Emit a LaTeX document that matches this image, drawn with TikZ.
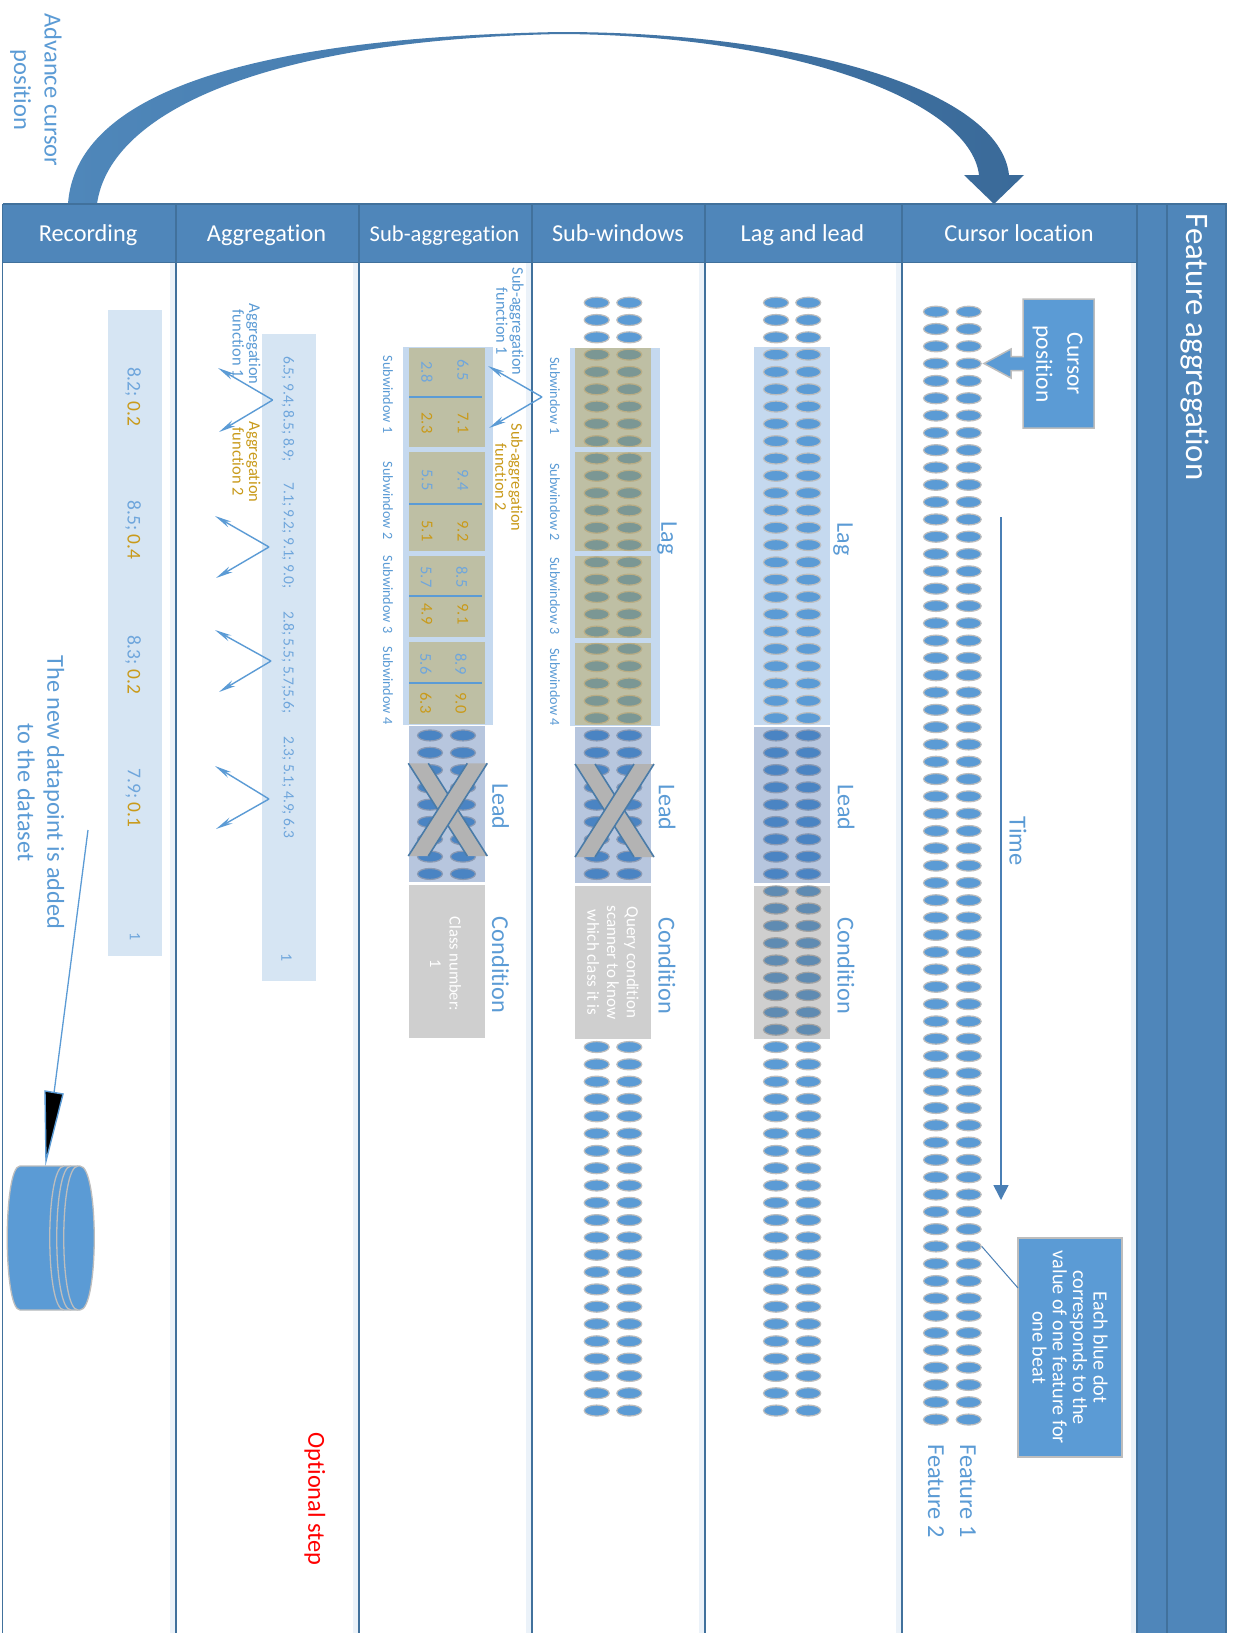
\documentclass[tikz,border=0pt]{standalone}
\usepackage{fontspec}
\setmainfont[Ligatures=NoCommon]{Carlito}
\usetikzlibrary{shapes.geometric,arrows.meta}
\definecolor{hdr}{HTML}{4F86BA}
\definecolor{hdrline}{HTML}{41719C}
\definecolor{glowc}{HTML}{EBF2F9}
\definecolor{lb}{HTML}{5B9BD5}
\definecolor{valb}{HTML}{6FA6DC}
\definecolor{gold}{HTML}{C99A1A}
\definecolor{lagbg}{HTML}{C5D9EF}
\definecolor{pale}{HTML}{D6E5F3}
\definecolor{dotline}{HTML}{BDBDBD}
\definecolor{tan}{RGB}{180,145,33}
\definecolor{leadc}{RGB}{44,88,161}
\definecolor{condc}{HTML}{CFCFCF}
\definecolor{condov}{HTML}{6A6A6A}
\definecolor{crossg}{HTML}{B3B3B3}
\definecolor{crossl}{HTML}{4A7BA7}
\definecolor{arrL}{HTML}{4F87BA}
\definecolor{arrR}{HTML}{3A6A99}
\definecolor{timec}{HTML}{4A7FB5}
\tikzset{
  vt/.style n args={2}{rotate=-90,align=center,inner sep=0pt,text=lb,font=\fontsize{#1}{#2}\selectfont},
  hdrtext/.style={inner sep=0pt,anchor=base,text=white,font=\fontsize{24.3}{26}\selectfont},
  dot/.style={ellipse,minimum width=25pt,minimum height=11pt,inner sep=0pt,fill=lb,draw=dotline,line width=1.2pt},
  tanbox/.style={fill=tan,fill opacity=.36,draw=none},
  leadbox/.style={fill=leadc,fill opacity=.34,draw=none},
  forkline/.style={draw=lb,line width=1.4pt,-{Stealth[length=17pt,width=6.5pt]}},
  sep/.style={draw=lb,line width=1.5pt},
  panel/.style={draw=hdrline,line width=1.5pt},
  glow/.style={draw=glowc,line width=5pt},
  whitebox/.style={fill=lb,draw=dotline,line width=1.5pt,text=white},
  bandshape/.style={fill=crossg,draw=none},
  bandedge/.style={draw=crossl,line width=1.6pt},
}
\begin{document}
\begin{tikzpicture}[x=1pt,y=-1pt]
\useasboundingbox (0,0) rectangle (1232,1633);
\fill[white] (0,0) rectangle (1232,1633);

% curved arrow
\shade[left color=arrL,right color=arrR,draw=none]
 (68,204) .. controls (75,100) and (230,38) .. (560,32)
 .. controls (800,32) and (1000,90) .. (1009,175)
 -- (1024,175) -- (994,204) -- (964,175) -- (979,175)
 .. controls (970,100) and (790,35) .. (560,34)
 .. controls (270,40) and (110,110) .. (97,204) -- cycle;
\node[vt={24.5}{30.5}] (advance) at (36,90) {Advance cursor\\position};

% panels
\foreach \x in {176,359,532,705,902,1137}{ \draw[glow] (\x-3.5,263) -- (\x-3.5,1633); }
\foreach \x in {2.7,176,359,532,705,902}{ \draw[panel] (\x,263) -- (\x,1633); }
\fill[hdr] (2.7,204) rectangle (1137,262.7);
\fill[hdr] (1137,204) rectangle (1226,1633);
\draw[panel] (2.7,204) -- (1226,204) -- (1226,1633);
\draw[panel] (2.7,262.7) -- (1137,262.7);
\foreach \x in {2.7,176,359,532,705,902,1137,1167}{ \draw[draw=hdrline,line width=1.3pt] (\x,204) -- (\x,262.7); }
\draw[panel] (1137,262) -- (1137,1633);
\draw[panel] (1167,262) -- (1167,1633);
\node[hdrtext] (h1) at (88,241) {Recording};
\node[hdrtext] (h2) at (266.5,241) {Aggregation};
\node[hdrtext,font=\fontsize{22.6}{26}\selectfont] (h3) at (444.5,241) {Sub-aggregation};
\node[hdrtext] (h4) at (618,241) {Sub-windows};
\node[hdrtext] (h5) at (802.5,241) {Lag and lead};
\node[hdrtext] (h6) at (1019,241) {Cursor location};
\node[vt={32.8}{34},text=white] (fa) at (1195,347) {Feature aggregation};

% ---- Cursor location column
\foreach \k in {0,...,64}{
  \node[dot] (ca\k) at (968.7,{311.7+17.31*\k}) {};
  \node[dot] (cb\k) at (936,{311.7+17.31*\k}) {};
}
\draw[whitebox]
 (1023,299) -- (1094,299) -- (1094,428) -- (1023,428) -- (1023,370.5) -- (1011,370.5) -- (1011,378)
 -- (984,363.5) -- (1011,349) -- (1011,356.5) -- (1023,356.5) -- cycle;
\node[vt={23.4}{31},text=white] (curpos) at (1057.5,364) {Cursor\\position};
\coordinate (t1) at (1001,517);
\coordinate (t2) at (1001,1200);
\draw[draw=timec,line width=1.6pt,-{Triangle[length=15pt,width=15pt]}] (t1) -- (t2);
\node[vt={24.5}{26}] (time) at (1018,841) {Time};
\node[whitebox,rotate=-90,minimum width=219pt,minimum height=104pt,inner sep=0pt,align=center,font=\fontsize{20.2}{20.3}\selectfont] (each) at (1070,1347.5)
  {Each blue dot\\corresponds to the\\value of one feature for\\one beat};
\coordinate (eachattach) at (1018,1288);
\draw[draw=timec,line width=1pt] (ca54.east) -- (eachattach);
\node[vt={24.4}{32}] (feat) at (952,1491) {Feature 1\\Feature 2};

% ---- Lag and lead column
\fill[lagbg] (754,347) rectangle (830,725);
\foreach \k in {0,...,64}{
  \node[dot] (la\k) at (808.3,{302.7+17.31*\k}) {};
  \node[dot] (lb\k) at (776,{302.7+17.31*\k}) {};
}
\fill[leadbox] (754,727) rectangle (830,882.7);
\fill[condov,fill opacity=.32] (754,886) rectangle (830,1039);
\node[vt={24}{26}] (lag5) at (843,539) {Lag};
\node[vt={24}{26}] (lead5) at (846,807.5) {Lead};
\node[vt={24.3}{26}] (cond5) at (846,966) {Condition};

% ---- Sub-windows column
\fill[lagbg] (570,348) rectangle (660,726);
\foreach \k in {0,...,33,43,44,...,64}{
  \node[dot] (wa\k) at (629.3,{302.7+17.31*\k}) {};
  \node[dot] (wb\k) at (596.7,{302.7+17.31*\k}) {};
}
\fill[tanbox] (575,348) rectangle (651,446.7);
\fill[tanbox] (575,452) rectangle (651,551);
\fill[tanbox] (575,556) rectangle (651,637.7);
\fill[tanbox] (575,643) rectangle (651,725);
\fill[leadbox] (575,726.7) rectangle (651,882.7);
\node[fill=condc,minimum width=153pt,minimum height=76pt,inner sep=0pt,rotate=-90,text=white,align=center,font=\fontsize{17}{19.7}\selectfont] (query) at (613,962.5)
  {Query condition\\scanner to know\\which class it is};
\node[vt={14.2}{15}] (w1) at (555,396) {Subwindow 1};
\node[vt={14.2}{15}] (w2) at (555,502) {Subwindow 2};
\node[vt={14.2}{15}] (w3) at (555,596) {Subwindow 3};
\node[vt={14.2}{15}] (w4) at (555,687) {Subwindow 4};
\node[vt={24}{26}] (lag4) at (667,538) {Lag};
\node[vt={24}{26}] (lead4) at (667,807.5) {Lead};
\node[vt={24.3}{26}] (cond4) at (667,966) {Condition};
\fill[bandshape] (575,764) -- (595,764) -- (654,857) -- (634,857) -- cycle;
\draw[bandedge] (575,764) -- (634,857) (595,764) -- (654,857);
\fill[bandshape] (634,764) -- (654,764) -- (595,857) -- (575,857) -- cycle;
\draw[bandedge] (654,764) -- (595,857) (634,764) -- (575,857);

% ---- Sub-aggregation column
\fill[lagbg] (403,347) rectangle (493,725);
\fill[tanbox] (409,348) rectangle (485,447);
\fill[tanbox] (409,452) rectangle (485,551);
\fill[tanbox] (409,556) rectangle (485,637);
\fill[tanbox] (409,642) rectangle (485,724);
\draw[sep] (409,397) -- (482,397);
\draw[sep] (409,504) -- (482,504);
\draw[sep] (409,596) -- (482,596);
\draw[sep] (409,683) -- (482,683);
\foreach \n/\x/\y/\t/\c in {
 a1/463/370/6.5/valb, a2/427/372/2.8/valb, a3/463/423/7.1/gold, a4/427/423/2.3/gold,
 b1/463/480/9.4/valb, b2/427/480/5.5/valb, b3/463/531/9.2/gold, b4/427/531/5.1/gold,
 c1/462/577/8.5/valb, c2/426/577/5.7/valb, c3/463/614/9.1/gold, c4/427/614/4.9/gold,
 d1/461/664/8.9/valb, d2/426/664/5.6/valb, d3/461/703/9.0/gold, d4/426/703/6.3/gold}{
  \node[vt={16.5}{18},text=\c] (v\n) at (\x,\y) {\t};
}
\foreach \k in {25,...,33}{
  \node[dot] (sa\k) at (463,{302.7+17.31*\k}) {};
  \node[dot] (sb\k) at (430,{302.7+17.31*\k}) {};
}
\fill[leadbox] (409,726) rectangle (485,881.7);
\fill[condc] (409,885) rectangle (485,1037.7);
\node[vt={16.5}{19.5},text=white] (classno) at (445.5,964) {Class number:\\1};
\node[vt={14.2}{15}] (s1) at (388,394.5) {Subwindow 1};
\node[vt={14.2}{15}] (s2) at (388,500.5) {Subwindow 2};
\node[vt={14.2}{15}] (s3) at (388,594.5) {Subwindow 3};
\node[vt={14.2}{15}] (s4) at (388,685.5) {Subwindow 4};
\node[vt={24}{26}] (lead3) at (500.5,806.5) {Lead};
\node[vt={24.3}{26}] (cond3) at (500.5,965) {Condition};
\fill[bandshape] (408.3,763.3) -- (428.3,763.3) -- (487.3,856) -- (467.3,856) -- cycle;
\draw[bandedge] (408.3,763.3) -- (467.3,856) (428.3,763.3) -- (487.3,856);
\fill[bandshape] (467.3,763.3) -- (487.3,763.3) -- (428.3,856) -- (408.3,856) -- cycle;
\draw[bandedge] (487.3,763.3) -- (428.3,856) (467.3,763.3) -- (408.3,856);
\node[vt={16.3}{16}] (saf1) at (510,321.5) {Sub-aggregation\\function 1};
\node[vt={16.3}{16},text=gold] (saf2) at (509,477.5) {Sub-aggregation\\function 2};
\coordinate (sapex) at (542,397);
\coordinate (se1) at (488,366);
\coordinate (se2) at (489,428);
\draw[forkline] (sapex) -- (se1);
\draw[forkline] (sapex) -- (se2);

% ---- Aggregation column
\fill[pale] (262,334) rectangle (316,981);
\node[vt={15.5}{17},text=valb] (agg1) at (288,409) {6.5; 9.4; 8.5; 8.9;};
\node[vt={15.5}{17},text=valb] (agg2) at (288,535.5) {7.1; 9.2; 9.1; 9.0;};
\node[vt={15.5}{17},text=valb] (agg3) at (288,662.5) {2.8; 5.5; 5.7;5.6;};
\node[vt={15.5}{17},text=valb] (agg4) at (288,787.5) {2.3; 5.1; 4.9; 6.3};
\node[vt={16}{17},text=valb] (agg5) at (286.5,958) {1};
\node[vt={16.5}{16.5}] (af1) at (246.5,344) {Aggregation\\function 1};
\node[vt={16.5}{16.5},text=gold] (af2) at (246.5,462) {Aggregation\\function 2};
\foreach \n/\ax/\ay/\bx/\by/\cx/\cy in {
  1/272.7/400/218/368/219/432,
  2/269/547/215/516/216/578,
  3/271/661/215/630/219/692,
  4/269/799/215/766/216/829}{
  \coordinate (apex\n) at (\ax,\ay);
  \coordinate (endA\n) at (\bx,\by);
  \coordinate (endB\n) at (\cx,\cy);
  \draw[forkline] (apex\n) -- (endA\n);
  \draw[forkline] (apex\n) -- (endB\n);
}
\node[vt={24.4}{26},text=red] (opt) at (315,1499) {Optional step};

% ---- Recording column
\fill[pale] (108,310) rectangle (162,956);
\node[vt={19.5}{19},text=valb] (r1) at (133,396.5) {8.2; \textcolor{gold}{0.2}};
\node[vt={19.5}{19},text=valb] (r2) at (133,530) {8.5; \textcolor{gold}{0.4}};
\node[vt={19.5}{19},text=valb] (r3) at (133,664.5) {8.3; \textcolor{gold}{0.2}};
\node[vt={19.5}{19},text=valb] (r4) at (133,798) {7.9; \textcolor{gold}{0.1}};
\node[vt={16}{17},text=valb] (r5) at (135,937) {1};
\node[vt={24.3}{29.5}] (newdp) at (41,792.5) {The new datapoint is added\\to the dataset};
\coordinate (nd1) at (88,830);
\coordinate (nd2) at (54,1093);
\draw[draw=lb,line width=1.3pt] (nd1) -- (nd2);
\draw[draw=lb,fill=black,line width=1.4pt] (45,1091) -- (63,1094) -- (46,1161) -- cycle;
% dataset
\draw[fill=lb,draw=dotline,line width=1.3pt]
 (20,1166) .. controls (3,1166) and (3,1310) .. (20,1310) -- (80,1310)
 .. controls (99,1310) and (99,1166) .. (80,1166) -- cycle;
\foreach \x in {78,71,64}{
  \draw[draw=dotline,line width=1.3pt] (\x,1166) .. controls (\x-19,1166) and (\x-19,1310) .. (\x,1310);
}
\end{tikzpicture}
\end{document}
